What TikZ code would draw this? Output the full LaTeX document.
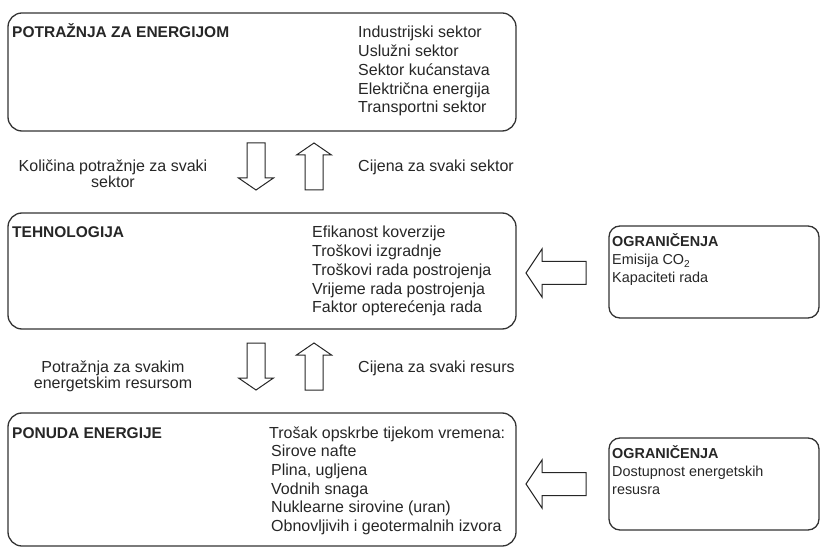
\documentclass[tikz,border=0pt]{standalone}
\usepackage{fontspec}
\setmainfont{Liberation Sans}

\tikzset{
  block/.style={draw=black!80, line width=1.3bp, rounded corners=14bp, inner sep=0pt},
  limitbox/.style={block, rounded corners=11bp},
  head/.style={anchor=base west, inner sep=0pt, font=\fontsize{15.5bp}{18bp}\selectfont\bfseries},
  item/.style={anchor=base west, inner sep=0pt},
  flowtext/.style={anchor=base, inner sep=0pt},
  limithead/.style={head, font=\fontsize{14.4bp}{17bp}\selectfont\bfseries},
  limititem/.style={item, font=\fontsize{14.4bp}{17bp}\selectfont},
  vfat/.pic={\draw[line width=1bp] (0,-9) -- (35,-9) -- (35,-17.5) -- (47,0)
     -- (35,17.5) -- (35,9) -- (0,9) -- cycle;},
  hfat/.pic={\draw[line width=1bp] (0,-11.5) -- (44,-11.5) -- (44,-24) -- (60,0)
     -- (44,24) -- (44,11.5) -- (0,11.5) -- cycle;}
}

\begin{document}
\begin{tikzpicture}[x=1bp, y=-1bp, text=black!85, draw=black!85,
  font=\fontsize{16bp}{18bp}\selectfont]
\useasboundingbox (0,0) rectangle (821,550);
% boxes
\node[block, minimum width=508bp, minimum height=118bp] (demand) at (262,72) {};
\node[block, minimum width=508bp, minimum height=116bp] (tech) at (262,271) {};
\node[block, minimum width=508bp, minimum height=133bp] (supply) at (262,479.5) {};
\node[limitbox, minimum width=210bp, minimum height=92bp] (limit1) at (714,272) {};
\node[limitbox, minimum width=210bp, minimum height=92bp] (limit2) at (714,484) {};
% demand
\node[head] (demandhead) at (12,38) {POTRAŽNJA ZA ENERGIJOM};
\node[item] (dem1) at (358,38) {Industrijski sektor};
\node[item] (dem2) at (358,56.7) {Uslužni sektor};
\node[item] (dem3) at (358,75.4) {Sektor kućanstava};
\node[item] (dem4) at (358,94.1) {Električna energija};
\node[item] (dem5) at (358,112.8) {Transportni sektor};
% flows between demand and technology
\pic[rotate=-90] at (256,143) {vfat};
\pic[rotate=90] at (314,190) {vfat};
\node[flowtext] (qty1) at (113,172) {Količina potražnje za svaki};
\node[flowtext] (qty2) at (113,188) {sektor};
\node[item] (price1) at (358,172) {Cijena za svaki sektor};
% technology
\node[head] (techhead) at (12,238) {TEHNOLOGIJA};
\node[item] (tech1) at (312,238) {Efikanost koverzije};
\node[item] (tech2) at (312,256.7) {Troškovi izgradnje};
\node[item] (tech3) at (312,275.4) {Troškovi rada postrojenja};
\node[item] (tech4) at (312,294.1) {Vrijeme rada postrojenja};
\node[item] (tech5) at (312,312.8) {Faktor opterećenja rada};
% flows between technology and supply
\pic[rotate=-90] at (256,343) {vfat};
\pic[rotate=90] at (314,390) {vfat};
\node[flowtext] (res1) at (113,372) {Potražnja za svakim};
\node[flowtext] (res2) at (113,388) {energetskim resursom};
\node[item] (price2) at (358,372) {Cijena za svaki resurs};
% supply
\node[head] (supplyhead) at (12,438) {PONUDA ENERGIJE};
\node[item] (sup0) at (269,438) {Trošak opskrbe tijekom vremena:};
\node[item] (sup1) at (271,456.7) {Sirove nafte};
\node[item] (sup2) at (271,475.4) {Plina, ugljena};
\node[item] (sup3) at (271,494.1) {Vodnih snaga};
\node[item] (sup4) at (271,512.8) {Nuklearne sirovine (uran)};
\node[item] (sup5) at (271,531.5) {Obnovljivih i geotermalnih izvora};
% limits
\pic[rotate=180] at (586,273) {hfat};
\node[limithead] (limit1head) at (612,247) {OGRANIČENJA};
\node[limititem] (limit1a) at (612,265) {Emisija CO\textsubscript{2}};
\node[limititem] (limit1b) at (612,283) {Kapaciteti rada};
\pic[rotate=180] at (586,484) {hfat};
\node[limithead] (limit2head) at (612,458) {OGRANIČENJA};
\node[limititem] (limit2a) at (612,476) {Dostupnost energetskih};
\node[limititem] (limit2b) at (612,494) {resusra};
\end{tikzpicture}
\end{document}
